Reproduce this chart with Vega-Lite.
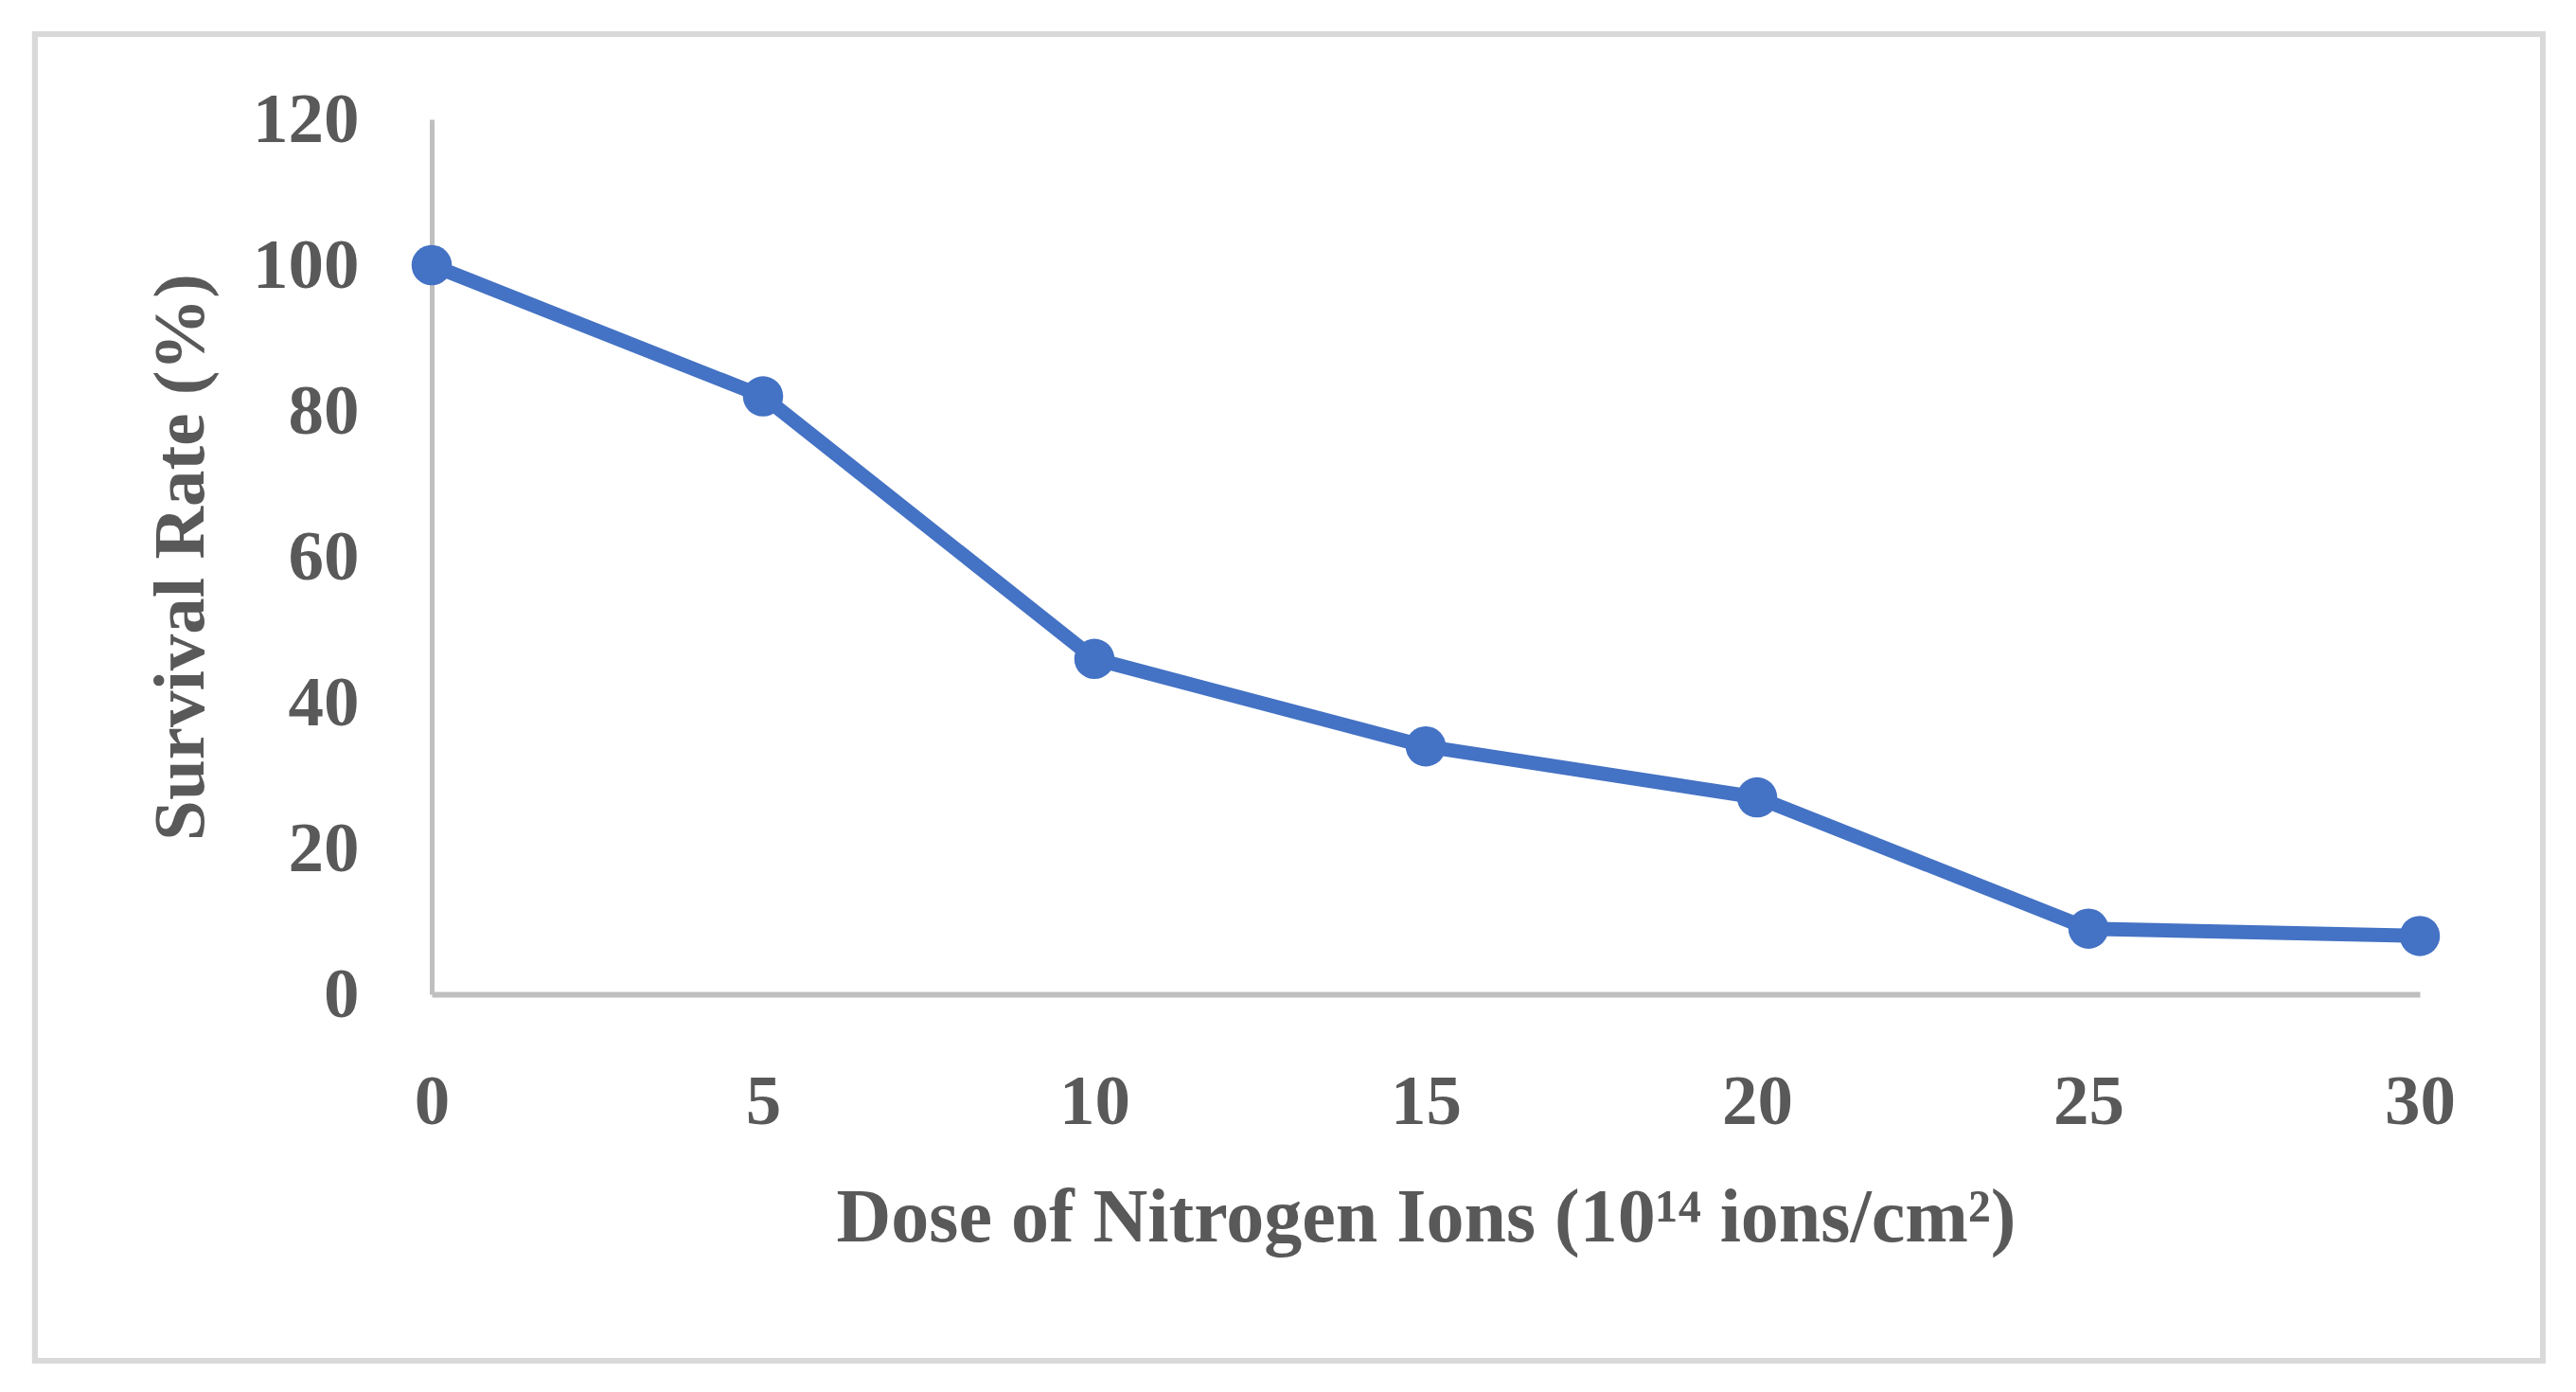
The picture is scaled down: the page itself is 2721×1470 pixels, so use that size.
{
  "$schema": "https://vega.github.io/schema/vega-lite/v6.json",
  "autosize": "none",
  "width": 2100,
  "height": 924,
  "padding": {"left": 456, "top": 126, "right": 165, "bottom": 420},
  "background": "white",
  "config": {
    "view": {"stroke": null},
    "axis": {
      "grid": false, "ticks": false,
      "domainColor": "#bfbfbf",
      "labelFont": "Liberation Serif", "labelFontWeight": "bold", "labelFontSize": 75, "labelColor": "#595959", "labelPadding": 77,
      "labelFlush": false, "labelOverlap": false,
      "titleFont": "Liberation Serif", "titleFontWeight": "bold", "titleColor": "#595959"
    },
    "axisX": {"domainWidth": 6, "titlePadding": 46, "titleFontSize": 80},
    "axisY": {"domainWidth": 5, "titlePadding": 36, "titleFontSize": 77}
  },
  "data": {"values": [
    {"dose": 0, "survival": 100},
    {"dose": 5, "survival": 82},
    {"dose": 10, "survival": 46},
    {"dose": 15, "survival": 34},
    {"dose": 20, "survival": 27},
    {"dose": 25, "survival": 9},
    {"dose": 30, "survival": 8}
  ]},
  "layer": [
    {
      "mark": {"type": "rect", "fill": null, "stroke": "#d9d9d9", "strokeWidth": 6},
      "encoding": {
        "x": {"datum": -5.986, "type": "quantitative", "scale": {"domain": [0, 30], "nice": false, "zero": false},
              "axis": {"title": "Dose of Nitrogen Ions (10¹⁴ ions/cm²)", "values": [0, 5, 10, 15, 20, 25, 30]}},
        "x2": {"datum": 31.857},
        "y": {"datum": 131.69, "type": "quantitative", "scale": {"domain": [0, 120], "nice": false},
              "axis": {"title": "Survival Rate (%)", "values": [0, 20, 40, 60, 80, 100, 120]}},
        "y2": {"datum": -50.26}
      }
    },
    {
      "mark": {"type": "line", "color": "#4472C4", "strokeWidth": 15, "point": {"filled": true, "size": 1810, "color": "#4472C4", "opacity": 1}},
      "encoding": {
        "x": {
          "field": "dose", "type": "quantitative",
          "scale": {"domain": [0, 30], "nice": false, "zero": false},
          "axis": {"title": "Dose of Nitrogen Ions (10¹⁴ ions/cm²)", "values": [0, 5, 10, 15, 20, 25, 30]}
        },
        "y": {
          "field": "survival", "type": "quantitative",
          "scale": {"domain": [0, 120], "nice": false},
          "axis": {"title": "Survival Rate (%)", "values": [0, 20, 40, 60, 80, 100, 120]}
        }
      }
    }
  ]
}
